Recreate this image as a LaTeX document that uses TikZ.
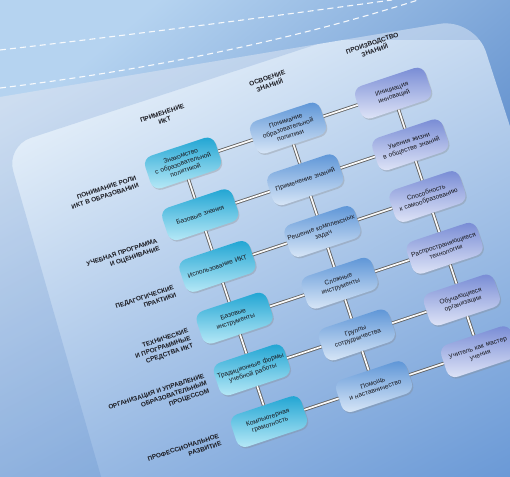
\documentclass[tikz,border=0pt]{standalone}
\usepackage{fontspec}
\setmainfont{Liberation Sans}
\usetikzlibrary{shadows}
\definecolor{bgA}{HTML}{B5D3F0}
\definecolor{bgB}{HTML}{3F74BF}
\definecolor{panA}{HTML}{EAF3FB}
\definecolor{panB}{HTML}{6394D4}
\definecolor{aTop}{HTML}{1CA3D2}
\definecolor{aBot}{HTML}{BCEBF8}
\definecolor{bTop}{HTML}{5A93D6}
\definecolor{bBot}{HTML}{DCE9F8}
\definecolor{cTop}{HTML}{7589D4}
\definecolor{cBot}{HTML}{E2E7F8}
\definecolor{ink}{HTML}{1A1A20}
\begin{document}
\begin{tikzpicture}[x=1pt,y=1pt,
  cell/.style={rounded corners=9pt, minimum width=74pt, minimum height=34pt,
    text width=72pt, align=center, inner sep=1pt, transform shape,
    font=\fontsize{6.6}{7.6}\selectfont, text=ink,
    drop shadow={opacity=0.3, shadow xshift=1.2pt, shadow yshift=-1.5pt}},
  colA/.style={cell, top color=aTop, bottom color=aBot},
  colB/.style={cell, top color=bTop, bottom color=bBot},
  colC/.style={cell, top color=cTop, bottom color=cBot},
  head/.style={align=center, transform shape, inner sep=0pt,
    font=\bfseries\fontsize{6.5}{7.8}\selectfont, text=ink},
  rowlab/.style={align=right, anchor=east, transform shape, inner sep=0pt,
    font=\bfseries\fontsize{6.4}{7.9}\selectfont, text=ink},
  conn/.style={draw=black!62, line width=0.85pt, double=white!95!gray, double distance=1.7pt},
  dashline/.style={draw=white, line width=1.1pt, dash pattern=on 6pt off 4pt, opacity=0.9}
]
\useasboundingbox (0,0) rectangle (510,-476);
% background
\shade[top color=bgA, bottom color=bgB, shading angle=40] (0,0) rectangle (510,-476);
% outer panel
\shade[top color=panA, bottom color=panB, shading angle=28, rounded corners=36pt]
  (-60,-107) -- (475,-18) -- (650,-560) -- (-60,-560) -- cycle;
% darker margin around the inner panel
\begin{scope}
  \clip[rounded corners=36pt] (-60,-107) -- (475,-18) -- (650,-560) -- (-60,-560) -- cycle;
  \fill[bgB, opacity=0.17, even odd rule] (-10,10) rectangle (520,-490)
    (125,-560) [rounded corners=26pt] -- (6,-146) [sharp corners] -- (330,-40)
    -- (700,-40) -- (700,-560) -- cycle;
\end{scope}
% dashed lines
\draw[dashline] (0,-50) .. controls (130,-35) and (260,-18) .. (392,0);
\draw[dashline] (0,-88) .. controls (150,-70) and (300,-38) .. (418,0);

\begin{scope}[shift={(183,-163)}, rotate=18.4]
  % column headers
  \node[head] (h1) at (-4,50) {ПРИМЕНЕНИЕ\\ИКТ};
  \node[head] (h2) at (106.7,50) {ОСВОЕНИЕ\\ЗНАНИЙ};
  \node[head] (h3) at (217.4,50) {ПРОИЗВОДСТВО\\ЗНАНИЙ};
  % row labels
  \node[rowlab] (l1) at (-49,-3) {ПОНИМАНИЕ РОЛИ\\ИКТ В ОБРАЗОВАНИИ};
  \node[rowlab] (l2) at (-49,-70) {УЧЕБНАЯ ПРОГРАММА\\И ОЦЕНИВАНИЕ};
  \node[rowlab] (l3) at (-48,-119) {ПЕДАГОГИЧЕСКИЕ\\ПРАКТИКИ};
  \node[rowlab] (l4) at (-48,-169) {ТЕХНИЧЕСКИЕ\\И ПРОГРАММНЫЕ\\СРЕДСТВА ИКТ};
  \node[rowlab] (l5) at (-47,-217) {ОРГАНИЗАЦИЯ И УПРАВЛЕНИЕ\\ОБРАЗОВАТЕЛЬНЫМ\\ПРОЦЕССОМ};
  \node[rowlab] (l6) at (-52,-274) {ПРОФЕССИОНАЛЬНОЕ\\РАЗВИТИЕ};
  % column 1
  \node[colA] (a1) at (0,0) {Знакомство\\с образовательной\\политикой};
  \node[colA] (a2) at (0,-54.5) {Базовые знания};
  \node[colA] (a3) at (0,-109) {Использование ИКТ};
  \node[colA] (a4) at (0,-163.5) {Базовые\\инструменты};
  \node[colA] (a5) at (0,-218) {Традиционные формы\\учебной работы};
  \node[colA] (a6) at (0,-272.5) {Компьютерная\\грамотность};
  % column 2
  \node[colB] (b1) at (110.7,0) {Понимание\\образовательной\\политики};
  \node[colB] (b2) at (110.7,-54.5) {Применение знаний};
  \node[colB] (b3) at (110.7,-109) {Решение комплексных\\задач};
  \node[colB] (b4) at (110.7,-163.5) {Сложные\\инструменты};
  \node[colB] (b5) at (110.7,-218) {Группы\\сотрудничества};
  \node[colB] (b6) at (110.7,-272.5) {Помощь\\и наставничество};
  % column 3
  \node[colC] (c1) at (221.4,0) {Инициация\\инноваций};
  \node[colC] (c2) at (221.4,-54.5) {Умения жизни\\в обществе знаний};
  \node[colC] (c3) at (221.4,-109) {Способность\\к самообразованию};
  \node[colC] (c4) at (221.4,-163.5) {Распространяющиеся\\технологии};
  \node[colC] (c5) at (221.4,-218) {Обучающиеся\\организации};
  \node[colC] (c6) at (221.4,-272.5) {Учитель как мастер\\учения};
  % connectors
  \foreach \r in {1,...,6} {
    \draw[conn] (a\r) -- (b\r);
    \draw[conn] (b\r) -- (c\r);
  }
  \foreach \r/\s in {1/2,2/3,3/4,4/5,5/6} {
    \draw[conn] (a\r) -- (a\s);
    \draw[conn] (b\r) -- (b\s);
    \draw[conn] (c\r) -- (c\s);
  }
\end{scope}
\end{tikzpicture}
\end{document}
